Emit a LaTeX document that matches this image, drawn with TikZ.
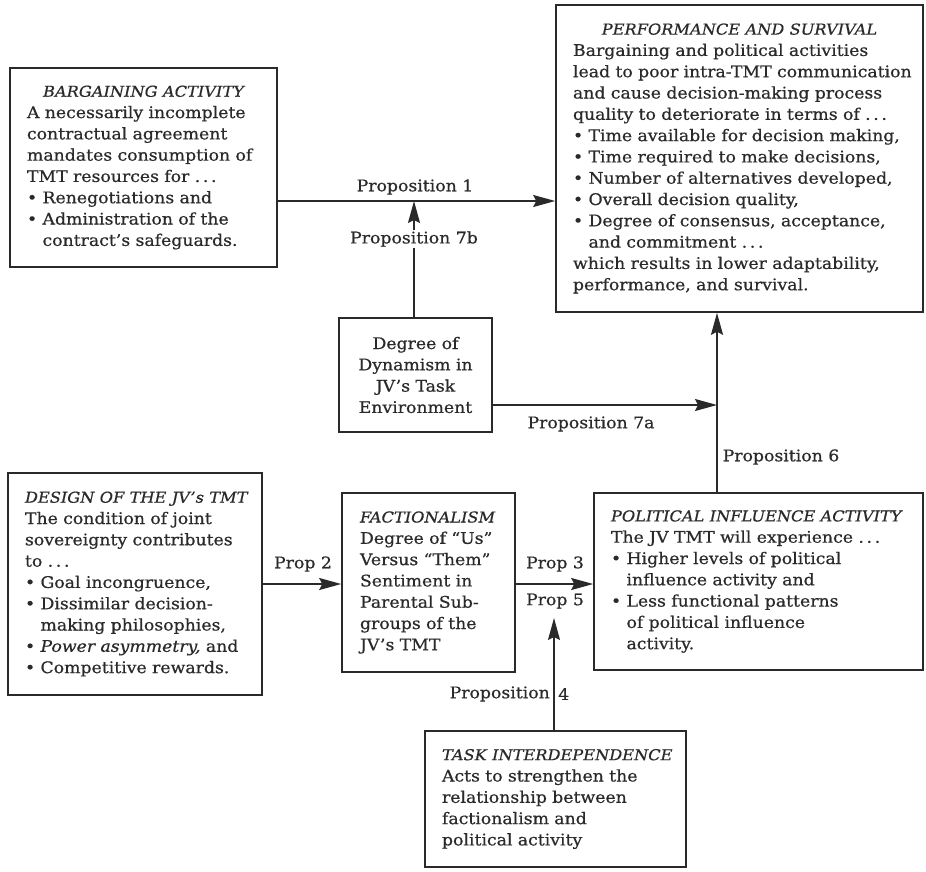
\documentclass[tikz,border=0pt]{standalone}
\usepackage{fontspec}
\setmainfont{DejaVu Serif}[FakeStretch=1.08, FakeBold=0.6]
\usetikzlibrary{arrows.meta}
\definecolor{ink}{HTML}{2A2A2A}
\newcommand\bul{\textbullet\ }
\newcommand\ind{\hphantom{\textbullet\ }}
\newcommand\ddd{.\,.\,.}
\newcommand\hd{\fontsize{15}{21.3}\selectfont\itshape}
\begin{document}
\begin{tikzpicture}[x=1pt,y=-1pt,
  font=\fontsize{16}{21.3}\selectfont, text=ink,
  box/.style={draw=ink, line width=1.6pt, fill=white, inner xsep=17pt, inner ysep=0pt, align=left},
  arr/.style={draw=ink, line width=1.6pt, -{Stealth[length=22pt,width=12pt,inset=3pt]}},
  lab/.style={inner sep=1pt}]
\useasboundingbox[fill=white] (0,0) rectangle (926,871);

% boxes
\node[box, minimum width=267pt, minimum height=199pt, text width=233pt] (barg) at (143.5,167.5) {%
\makebox[\hsize]{\hd BARGAINING ACTIVITY}\\
A necessarily incomplete\\
contractual agreement\\
\mbox{mandates consumption of}\\
TMT resources for \ddd\\
\bul Renegotiations and\\
\bul Administration of the\\
\ind contract’s safeguards.};

\node[box, minimum width=367pt, minimum height=307pt, text width=333pt] (perf) at (739.5,158.5) {%
\makebox[\hsize]{\hd PERFORMANCE AND SURVIVAL}\\
Bargaining and political activities\\
\mbox{lead to poor intra-TMT communication}\\
\mbox{and cause decision-making process}\\
\mbox{quality to deteriorate in terms of \ddd}\\
\mbox{\bul Time available for decision making,}\\
\bul Time required to make decisions,\\
\mbox{\bul Number of alternatives developed,}\\
\bul Overall decision quality,\\
\mbox{\bul Degree of consensus, acceptance,}\\
\ind and commitment \ddd\\
\mbox{which results in lower adaptability,}\\
performance, and survival.};

\node[box, align=center, inner xsep=5pt, minimum width=153pt, minimum height=114pt, text width=143pt] (dyn) at (415.5,375) {%
Degree of\\ Dynamism in\\ JV’s Task\\ Environment};

\node[box, minimum width=254pt, minimum height=222pt, text width=220pt] (des) at (135,584) {%
\mbox{\hd DESIGN OF THE JV’s TMT}\\
The condition of joint\\
\mbox{sovereignty contributes}\\
to \ddd\\
\bul Goal incongruence,\\
\bul Dissimilar decision-\\
\ind making philosophies,\\
\mbox{\bul {\itshape Power asymmetry,} and}\\
\mbox{\bul Competitive rewards.}};

\node[box, inner xsep=18pt, minimum width=173pt, minimum height=179pt, text width=137pt] (fac) at (428.5,582.5) {%
\mbox{\hd FACTIONALISM}\\
\mbox{Degree of “Us”}\\
\mbox{Versus “Them”}\\
Sentiment in\\
Parental Sub-\\
groups of the\\
JV’s TMT};

\node[box, inner xsep=17pt, minimum width=329pt, minimum height=177pt, text width=295pt] (pol) at (758.5,581.5) {%
\mbox{\hd POLITICAL INFLUENCE ACTIVITY}\\
\mbox{The JV TMT will experience \ddd}\\
\bul Higher levels of political\\
\ind influence activity and\\
\bul Less functional patterns\\
\ind of political influence\\
\ind activity.};

\node[box, minimum width=261pt, minimum height=136pt, text width=227pt] (task) at (555.5,799) {%
\mbox{\hd TASK INTERDEPENDENCE}\\
Acts to strengthen the\\
relationship between\\
factionalism and\\
political activity};

% helper coordinates
\coordinate (c1) at (414,201);
\coordinate (c6) at (717,405);
\coordinate (c2) at (300,584);
\coordinate (c4) at (554,618);

% connectors
\draw[arr] (barg.east |- c1) -- (perf.west |- c1);
\draw[arr] (dyn.north -| c1) -- (c1);
\draw[arr] (dyn.east |- c6) -- (c6);
\draw[arr] (pol.north -| c6) -- (perf.south -| c6);
\draw[arr] (des.east |- c2) -- (fac.west |- c2);
\draw[arr] (fac.east |- c2) -- (pol.west |- c2);
\draw[arr] (task.north -| c4) -- (c4);

% labels
\node[lab] (l1) at (415,187) {Proposition 1};
\node[lab, fill=white] (l7b) at (414,239) {Proposition 7b};
\node[lab] (l7a) at (591,424) {Proposition 7a};
\node[lab] (l6) at (781,457) {Proposition 6};
\node[lab] (l2) at (303,564) {Prop 2};
\node[lab] (l3) at (555,564) {Prop 3};
\node[lab] (l5) at (555,601) {Prop 5};
\node[lab, anchor=east] (l4a) at (551,694) {Proposition};
\node[lab, anchor=west] (l4b) at (557,694) {4};
\end{tikzpicture}
\end{document}
